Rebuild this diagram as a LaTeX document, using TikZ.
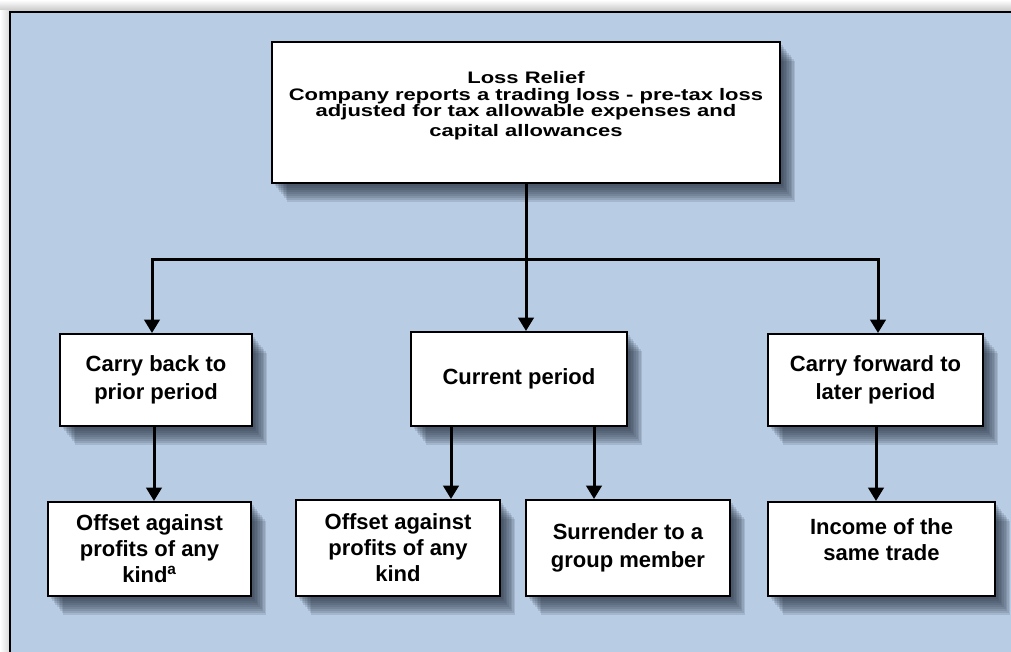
\documentclass[tikz,border=0pt]{standalone}
\usepackage{fontspec}
\setmainfont{Liberation Sans}
\newfontfamily\topfont[FakeStretch=1.32]{Liberation Sans}
\usetikzlibrary{arrows.meta,shadows}
\definecolor{panel}{HTML}{B8CCE4}
\definecolor{shadowc}{HTML}{2A3444}
\tikzset{
  sh/.style 2 args={drop shadow={shadow xshift=#1,shadow yshift=-#2,opacity=0.14,fill=shadowc}},
  softshadow/.style={sh={2pt}{2.5pt},sh={3.2pt}{4pt},sh={4.4pt}{5.5pt},sh={5.6pt}{7pt},
    sh={6.8pt}{8.5pt},sh={8pt}{10pt},sh={9.2pt}{11.5pt},sh={10.4pt}{13pt},sh={11.6pt}{14.5pt}}}
\begin{document}
\begin{tikzpicture}[x=0.75pt,y=-0.75pt,
  box/.style={draw=black,line width=1.5pt,fill=white,inner sep=0pt,align=center,softshadow},
  midtxt/.style={font=\bfseries\fontsize{16.5}{21}\selectfont,align=center},
  lowtxt/.style={font=\bfseries\fontsize{16.5}{19.5}\selectfont,align=center},
  toptxt/.style={font=\topfont\bfseries\fontsize{12.5}{12.2}\selectfont,align=center},
  conn/.style={line width=2.25pt,line join=miter},
  arr/.style={conn,-{Triangle[width=11.5pt,length=10pt]}}]
\useasboundingbox (0,0) rectangle (1011,652);
% page background and panel
\fill[white] (0,0) rectangle (1011,652);
\shade[top color=white,bottom color=black!22] (0,0) rectangle (1011,11);
\shade[left color=white,right color=black!14] (0,11) rectangle (9,652);
\fill[panel] (10,12) rectangle (1011,652);
\draw[line width=1.5pt] (1020,12) -- (10,12) -- (10,660);
% top box
\node[box,minimum width=381pt,minimum height=105.75pt] (top) at (526,112.5) {};
\node[toptxt] (toptext) at (526,106) {Loss Relief\\Company reports a trading loss - pre-tax loss\\adjusted for tax allowable expenses and\\[3pt]capital allowances};
% level 2
\node[box,midtxt,minimum width=144pt,minimum height=69pt] (l2a) at (156,380) {Carry back to\\prior period};
\node[box,midtxt,minimum width=162pt,minimum height=70.5pt] (l2b) at (519,379) {Current period};
\node[box,midtxt,minimum width=161.25pt,minimum height=69pt] (l2c) at (875.5,380) {Carry forward to\\later period};
% level 3
\node[box,lowtxt,minimum width=152.25pt,minimum height=70.5pt] (l3a) at (149.5,549) {Offset against\\profits of any\\kind\textsuperscript{a}};
\node[box,lowtxt,minimum width=153pt,minimum height=72pt] (l3b) at (398,548) {Offset against\\profits of any\\kind};
\node[box,midtxt,minimum width=153pt,minimum height=72pt] (l3c) at (628,548) {Surrender to a\\group member};
\node[box,minimum width=170.25pt,minimum height=70.5pt] (l3d) at (881.5,549) {};
\node[lowtxt] (l3dtext) at (881.5,540) {Income of the\\same trade};
% connectors
\coordinate (hl) at (152,260);
\coordinate (hm) at (526,260);
\coordinate (hr) at (878,260);
\draw[arr] (top.south) -- (hm |- l2b.north);
\draw[arr] (hm) -- (hl) -- (hl |- l2a.north);
\draw[arr] (hm) -- (hr) -- (hr |- l2c.north);
\coordinate (xa) at (154,0);
\coordinate (xb) at (451,0);
\coordinate (xc) at (594,0);
\coordinate (xd) at (876,0);
\draw[arr] (xa |- l2a.south) -- (xa |- l3a.north);
\draw[arr] (xb |- l2b.south) -- (xb |- l3b.north);
\draw[arr] (xc |- l2b.south) -- (xc |- l3c.north);
\draw[arr] (xd |- l2c.south) -- (xd |- l3d.north);
\end{tikzpicture}
\end{document}
